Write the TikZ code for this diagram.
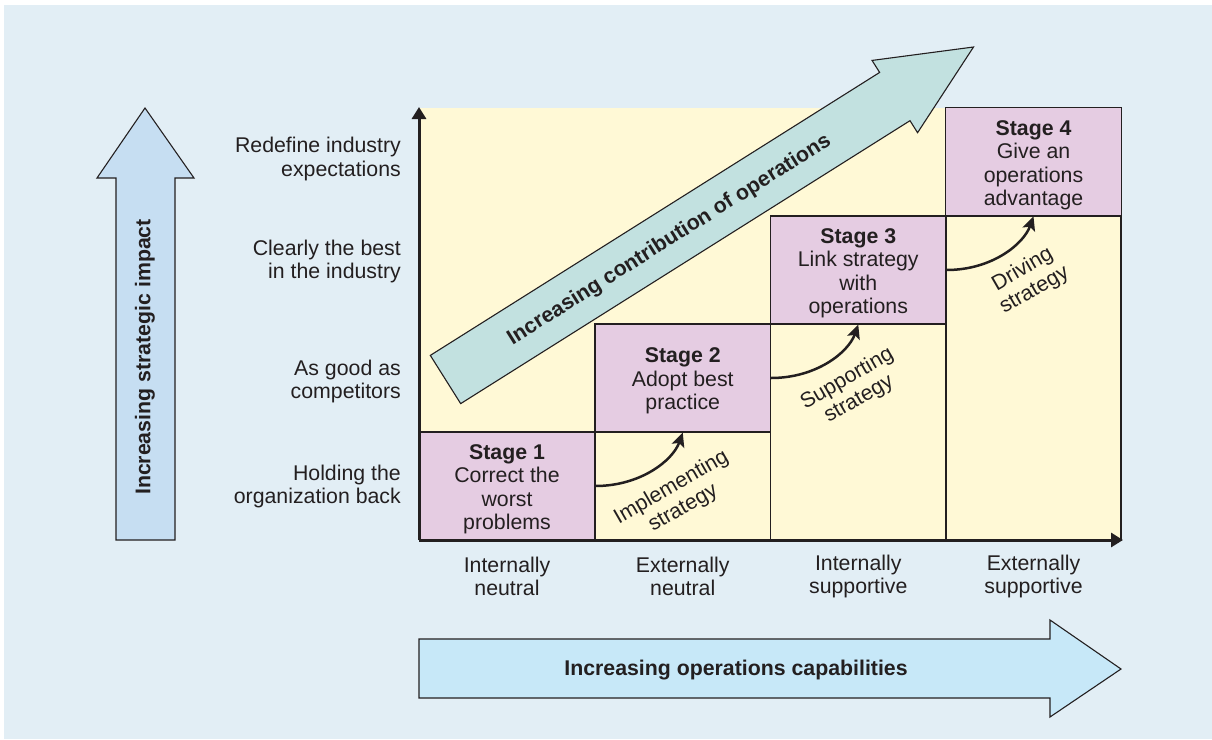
\documentclass[tikz,border=0pt]{standalone}
\usepackage{fontspec}
\setmainfont{Liberation Sans}
\usetikzlibrary{arrows.meta,calc}
\definecolor{bgblue}{HTML}{E2EEF5}
\definecolor{cream}{HTML}{FFF9D6}
\definecolor{pinkbox}{HTML}{E5CCE2}
\definecolor{tealarrow}{HTML}{C2E1E0}
\definecolor{leftblue}{HTML}{C6DEF2}
\definecolor{botblue}{HTML}{C7E8F8}
\definecolor{ink}{HTML}{231F20}
\begin{document}
\begin{tikzpicture}[x=1pt,y=-1pt,
  txt/.style={font=\fontsize{21.3}{23.5}\selectfont, text=ink, inner sep=0pt, align=center},
  boldtxt/.style={txt, font=\fontsize{21.3}{23.5}\selectfont\bfseries},
  stagebox/.style={draw=ink, line width=1.2pt, fill=pinkbox, inner sep=0pt, minimum width=175.5pt, minimum height=108pt},
  cell/.style={draw=ink, line width=1.2pt},
  bigarrow/.style={draw=ink, line width=1.1pt, line join=miter},
  axisline/.style={draw=ink, line width=3pt, -{Triangle[length=12pt,width=14pt]}},
  steparrow/.style={draw=ink, line width=2.5pt, -{Stealth[length=14pt,width=13pt,inset=3pt]}},
  sidelabel/.style={txt, anchor=east, align=right},
  steplabel/.style={txt, rotate=30}
]
\useasboundingbox (0,0) rectangle (1212,739);
\fill[white] (0,0) rectangle (1212,739);
\fill[bgblue] (4,5) rectangle (1212,739);

% left arrow
\draw[bigarrow, fill=leftblue] (116,540) -- (116,178) -- (97,178) -- (145,108) -- (194,178) -- (175,178) -- (175,540) -- cycle;
\node[boldtxt, rotate=90] (lefttxt) at (145,357) {Increasing strategic impact};

% bottom arrow
\draw[bigarrow, fill=botblue] (419,639) -- (1050,639) -- (1050,620) -- (1121,669) -- (1050,717) -- (1050,698) -- (419,698) -- cycle;
\node[boldtxt] (bottxt) at (736,670) {Increasing operations capabilities};

% yellow field
\fill[cream] (419,107.5) rectangle (1121,540);

% diagonal arrow
\begin{scope}[shift={(445.5,379.5)}, rotate=32.2]
\draw[bigarrow, fill=tealarrow] (0,-28.5) -- (531,-28.5) -- (531,-42.7) -- (624,0) -- (531,42.7) -- (531,28.5) -- (0,28.5) -- cycle;
\end{scope}
\node[boldtxt, rotate=32.2] (diagtxt) at (669.5,240) {Increasing contribution of operations};

% cells below stages
\draw[cell] (595,432) rectangle (770.5,540);
\draw[cell] (770.5,324) rectangle (946,540);
\draw[cell] (946,216) rectangle (1121,540);

% stage boxes
\node[stagebox] (s1) at (507,486) {};
\node[stagebox] (s2) at (682.75,378) {};
\node[stagebox] (s3) at (858.25,270) {};
\node[stagebox] (s4) at (1033.5,161.75) {};
\node[txt] (t1) at ($(s1.center)+(0,3.5)$) {\textbf{Stage 1}\\Correct the\\worst\\problems};
\node[txt] (t2) at ($(s2.center)+(0,3)$) {\textbf{Stage 2}\\Adopt best\\practice};
\node[txt] (t3) at ($(s3.center)+(0,3.5)$) {\textbf{Stage 3}\\Link strategy\\with\\operations};
\node[txt] (t4) at ($(s4.center)+(0,3.5)$) {\textbf{Stage 4}\\Give an\\operations\\advantage};

% axes
\coordinate (origin) at (419,540);
\coordinate (ytop) at (419,107);
\coordinate (xend) at (1123,540);
\draw[axisline] (origin) -- (ytop);
\draw[axisline] (origin) -- (xend);

% step arrows
\draw[steparrow] (s1.east) .. controls ($(s1.east)+(45,0)$) and ($(s2.south)+(-10,28)$) .. (s2.south);
\draw[steparrow] (s2.east) .. controls ($(s2.east)+(45,0)$) and ($(s3.south)+(-10,28)$) .. (s3.south);
\draw[steparrow] (s3.east) .. controls ($(s3.east)+(45,0)$) and ($(s4.south)+(-10,28)$) .. (s4.south);

\node[steplabel] (l1) at ($(s1.east)+(82,12)$) {Implementing\\strategy};
\node[steplabel] (l2) at ($(s2.east)+(82,11)$) {Supporting\\strategy};
\node[steplabel] (l3) at ($(s3.east)+(82,10)$) {Driving\\strategy};

% side labels
\node[sidelabel] (r4) at (401,159) {Redefine industry\\expectations};
\node[sidelabel] (r3) at (401,261.5) {Clearly the best\\in the industry};
\node[sidelabel] (r2) at (401,381.5) {As good as\\competitors};
\node[sidelabel] (r1) at (401,486.5) {Holding the\\organization back};

% bottom labels
\node[txt] (c1) at (507,576.5) {Internally\\neutral};
\node[txt] (c2) at (682.75,576.5) {Externally\\neutral};
\node[txt] (c3) at (858.25,576.5) {Internally\\supportive};
\node[txt] (c4) at (1033.5,576.5) {Externally\\supportive};
\end{tikzpicture}
\end{document}
